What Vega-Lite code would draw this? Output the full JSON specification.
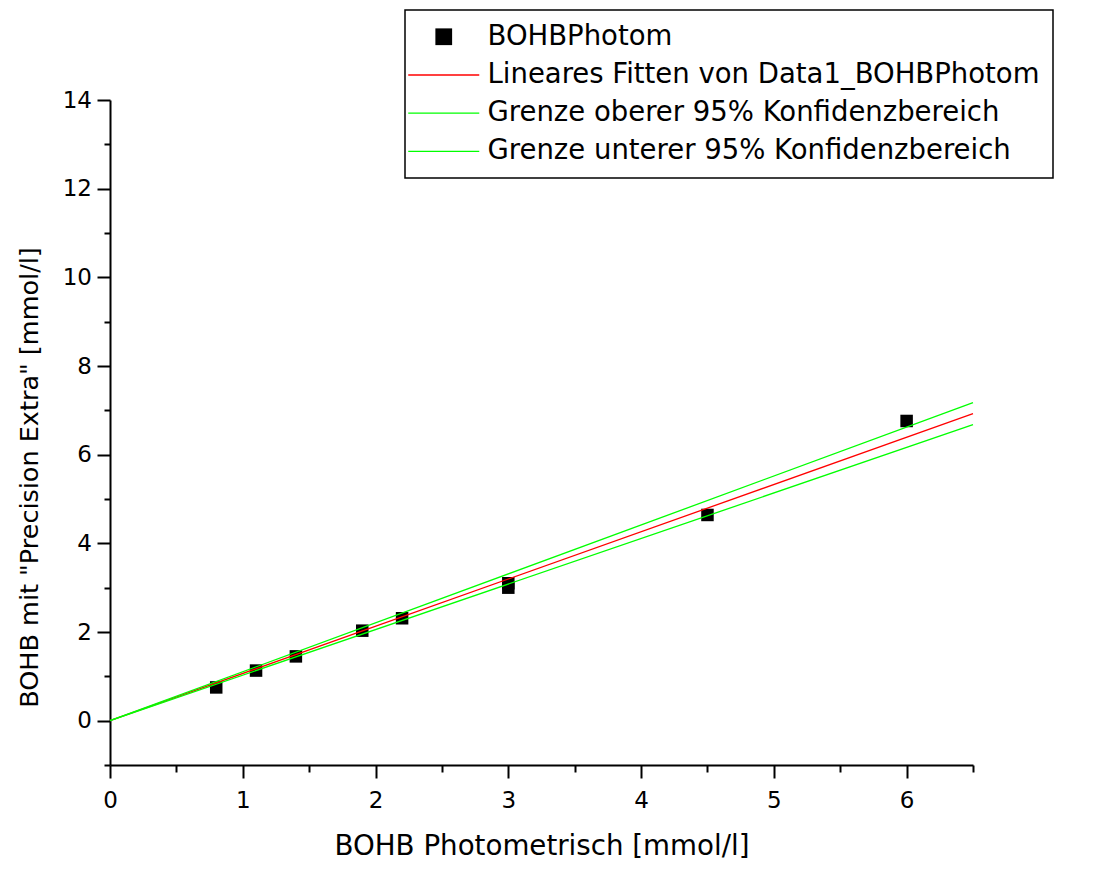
{
  "$schema": "https://vega.github.io/schema/vega-lite/v6.json",
  "width": 863,
  "height": 665,
  "autosize": {"type": "none"},
  "padding": {"left": 110, "top": 100, "right": 120, "bottom": 106},
  "background": "white",
  "config": {
    "view": {"stroke": null},
    "font": "DejaVu Sans",
    "axis": {
      "grid": false,
      "domainColor": "black",
      "domainWidth": 2,
      "tickColor": "black",
      "tickWidth": 2,
      "labelColor": "black",
      "labelFont": "DejaVu Sans",
      "labelFontSize": 23,
      "labelFlush": false,
      "labelOverlap": false,
      "titleColor": "black",
      "titleFont": "DejaVu Sans",
      "titleFontWeight": "normal"
    }
  },
  "datasets": {
    "messwerte": [
      {"photometrisch": 0.8, "precision": 0.75, "serie": "BOHBPhotom"},
      {"photometrisch": 1.1, "precision": 1.13, "serie": "BOHBPhotom"},
      {"photometrisch": 1.4, "precision": 1.45, "serie": "BOHBPhotom"},
      {"photometrisch": 1.9, "precision": 2.03, "serie": "BOHBPhotom"},
      {"photometrisch": 2.2, "precision": 2.31, "serie": "BOHBPhotom"},
      {"photometrisch": 3.0, "precision": 3.10, "serie": "BOHBPhotom"},
      {"photometrisch": 3.0, "precision": 3.00, "serie": "BOHBPhotom"},
      {"photometrisch": 4.5, "precision": 4.64, "serie": "BOHBPhotom"},
      {"photometrisch": 6.0, "precision": 6.76, "serie": "BOHBPhotom"}
    ],
    "geraden": [
      {"photometrisch": 0, "precision": 0, "serie": "Lineares Fitten von Data1_BOHBPhotom"},
      {"photometrisch": 6.5, "precision": 6.925, "serie": "Lineares Fitten von Data1_BOHBPhotom"},
      {"photometrisch": 0, "precision": 0, "serie": "Grenze oberer 95% Konfidenzbereich"},
      {"photometrisch": 6.5, "precision": 7.173, "serie": "Grenze oberer 95% Konfidenzbereich"},
      {"photometrisch": 0, "precision": 0, "serie": "Grenze unterer 95% Konfidenzbereich"},
      {"photometrisch": 6.5, "precision": 6.676, "serie": "Grenze unterer 95% Konfidenzbereich"}
    ]
  },
  "layer": [
    {
      "data": {"name": "messwerte"},
      "mark": {"type": "point", "filled": true, "opacity": 1, "size": 407, "strokeWidth": 0},
      "encoding": {
        "x": {
          "field": "photometrisch",
          "type": "quantitative",
          "scale": {"domain": [0, 6.5], "nice": false, "zero": false},
          "axis": {
            "title": "BOHB Photometrisch [mmol/l]",
            "titleFontSize": 27.7,
            "titleBaseline": "alphabetic",
            "titleY": 89,
            "values": [0, 0.5, 1, 1.5, 2, 2.5, 3, 3.5, 4, 4.5, 5, 5.5, 6, 6.5],
            "labelExpr": "datum.value % 1 === 0 ? format(datum.value, 'd') : ''",
            "tickSize": {"condition": {"test": "datum.value % 1 === 0", "value": 13}, "value": 7},
            "labelBaseline": "alphabetic",
            "labelPadding": 29
          }
        },
        "y": {
          "field": "precision",
          "type": "quantitative",
          "scale": {"domain": [-1, 14], "nice": false, "zero": false},
          "axis": {
            "title": "BOHB mit \"Precision Extra\" [mmol/l]",
            "titleFontSize": 25.5,
            "titleBaseline": "alphabetic",
            "titleX": -73,
            "titleY": 377,
            "values": [-1, 0, 1, 2, 3, 4, 5, 6, 7, 8, 9, 10, 11, 12, 13, 14],
            "labelExpr": "datum.value % 2 === 0 ? format(datum.value, 'd') : ''",
            "tickSize": {"condition": {"test": "datum.value % 2 === 0", "value": 13}, "value": 6},
            "labelBaseline": "middle",
            "labelPadding": 5.5
          }
        },
        "color": {
          "field": "serie",
          "type": "nominal",
          "scale": {
            "domain": ["BOHBPhotom", "Lineares Fitten von Data1_BOHBPhotom", "Grenze oberer 95% Konfidenzbereich", "Grenze unterer 95% Konfidenzbereich"],
            "range": ["black", "#ff0000", "#00ff00", "#00ff00"]
          },
          "legend": {
            "orient": "none",
            "legendX": 295,
            "legendY": -90,
            "title": null,
            "padding": 13,
            "rowPadding": 9.2,
            "symbolSize": 729,
            "symbolOffset": 12,
            "symbolStrokeWidth": 0,
            "symbolOpacity": 1,
            "labelOffset": 30,
            "labelFont": "DejaVu Sans",
            "labelFontSize": 27.5,
            "labelColor": "black",
            "labelLimit": 900,
            "fillColor": "white",
            "strokeColor": "black",
            "encode": {
              "legend": {"update": {"strokeWidth": {"value": 1.5}}},
              "entries": {"update": {"width": {"value": 720}}}
            }
          }
        },
        "shape": {
          "field": "serie",
          "type": "nominal",
          "scale": {
            "domain": ["BOHBPhotom", "Lineares Fitten von Data1_BOHBPhotom", "Grenze oberer 95% Konfidenzbereich", "Grenze unterer 95% Konfidenzbereich"],
            "range": [
              "M-0.62,-0.62H0.62V0.62H-0.62Z",
              "M-2.63,-0.05H2.63V0.05H-2.63Z",
              "M-2.63,-0.05H2.63V0.05H-2.63Z",
              "M-2.63,-0.05H2.63V0.05H-2.63Z"
            ]
          },
          "legend": {
            "orient": "none",
            "legendX": 295,
            "legendY": -90,
            "title": null
          }
        }
      }
    },
    {
      "data": {"name": "geraden"},
      "mark": {"type": "line", "strokeWidth": 1.3},
      "encoding": {
        "x": {"field": "photometrisch", "type": "quantitative"},
        "y": {"field": "precision", "type": "quantitative"},
        "color": {"field": "serie", "type": "nominal", "legend": null}
      }
    }
  ]
}
